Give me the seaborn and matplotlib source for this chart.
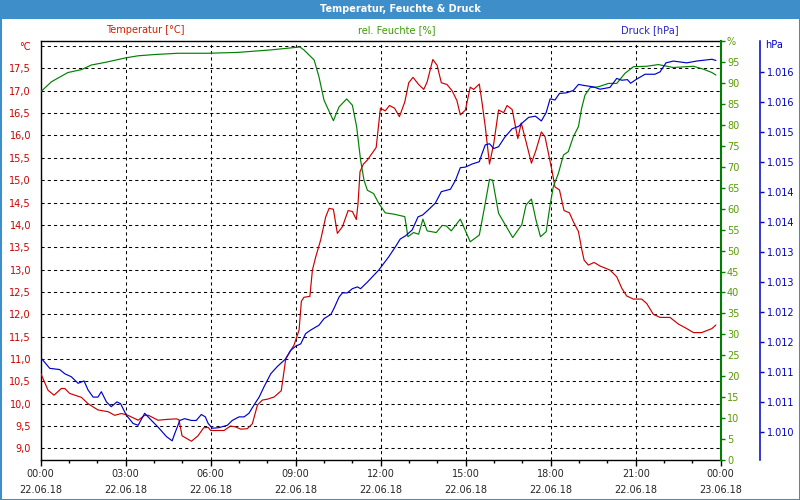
import matplotlib
matplotlib.use("Agg")
import matplotlib.pyplot as plt
from matplotlib.patches import Rectangle
from matplotlib.ticker import FixedLocator, FixedFormatter
import seaborn as sns
import pandas as pd

# ---------------- data (hours since 22.06.18 00:00) ----------------
temp_t = [0.0, 0.26, 0.47, 0.73, 0.85, 1.02, 1.44, 1.67, 2.02, 2.38, 2.61, 2.85, 3.08, 3.44,
          3.67, 3.80, 4.14, 4.49, 4.79, 4.88, 4.99, 5.32, 5.55, 5.75, 5.91, 6.00, 6.47, 6.70,
          6.88, 7.06, 7.29, 7.47, 7.65, 7.82, 8.00, 8.24, 8.49, 8.56, 8.65, 8.94, 9.12, 9.20,
          9.29, 9.50, 9.59, 9.71, 9.88, 10.06, 10.18, 10.33, 10.47, 10.65, 10.85, 11.00, 11.14,
          11.20, 11.27, 11.39, 11.53, 11.65, 11.84, 11.99, 12.16, 12.31, 12.49, 12.66, 12.85,
          12.99, 13.14, 13.34, 13.52, 13.64, 13.84, 13.99, 14.14, 14.34, 14.52, 14.69, 14.81,
          14.99, 15.16, 15.28, 15.48, 15.58, 15.69, 15.84, 15.99, 16.16, 16.34, 16.46, 16.64,
          16.84, 16.96, 17.13, 17.32, 17.48, 17.67, 17.80, 17.92, 18.04, 18.15, 18.31, 18.47,
          18.66, 18.80, 18.98, 19.09, 19.18, 19.33, 19.53, 19.74, 20.09, 20.33, 20.51, 20.68,
          20.92, 21.21, 21.39, 21.62, 21.86, 22.21, 22.51, 22.80, 23.04, 23.33, 23.69, 23.83]
temp_v = [10.68, 10.30, 10.19, 10.34, 10.34, 10.23, 10.14, 10.00, 9.86, 9.82, 9.74, 9.78, 9.74, 9.63,
          9.74, 9.74, 9.63, 9.65, 9.66, 9.64, 9.28, 9.16, 9.28, 9.46, 9.47, 9.40, 9.40, 9.50,
          9.48, 9.43, 9.44, 9.55, 9.97, 10.08, 10.10, 10.15, 10.29, 10.60, 11.01, 11.31, 11.65, 12.29,
          12.38, 12.40, 12.99, 13.29, 13.66, 14.18, 14.37, 14.35, 13.81, 13.96, 14.32, 14.30, 14.12,
          14.48, 15.19, 15.36, 15.45, 15.56, 15.73, 16.61, 16.55, 16.67, 16.61, 16.42, 16.75,
          17.18, 17.30, 17.14, 17.03, 17.20, 17.70, 17.57, 17.18, 17.14, 17.00, 16.78, 16.46,
          16.57, 17.08, 17.03, 17.15, 16.72, 16.20, 15.36, 15.82, 16.57, 16.51, 16.67, 16.58,
          15.93, 16.28, 15.86, 15.38, 15.67, 16.08, 15.97, 15.60, 15.23, 14.85, 14.78, 14.32,
          14.27, 14.07, 13.85, 13.47, 13.21, 13.10, 13.16, 13.08, 12.99, 12.84, 12.58, 12.41,
          12.34, 12.34, 12.24, 12.00, 11.93, 11.93, 11.78, 11.68, 11.59, 11.59, 11.68, 11.76]

hum_t = [0.0, 0.38, 0.96, 1.44, 1.79, 2.26, 3.0, 3.44, 4.02, 4.85, 5.9, 6.94, 8.12, 9.0, 9.15, 9.29,
         9.65, 9.82, 10.0, 10.33, 10.53, 10.8, 11.0, 11.15, 11.29, 11.41, 11.53, 11.75, 11.93,
         12.16, 12.46, 12.85, 12.96, 13.16, 13.34, 13.49, 13.64, 13.96, 14.17, 14.31, 14.49,
         14.81, 15.16, 15.48, 15.69, 15.84, 15.95, 16.16, 16.40, 16.66, 16.98, 17.13, 17.32,
         17.48, 17.64, 17.84, 17.98, 18.09, 18.27, 18.45, 18.62, 18.80, 18.98, 19.09, 19.21,
         19.39, 19.68, 20.04, 20.33, 20.62, 20.92, 21.39, 21.80, 22.33, 23.04, 23.39, 23.69, 23.83]
hum_v = [87.9, 90.3, 92.5, 93.2, 94.3, 94.9, 96.0, 96.5, 96.8, 97.1, 97.1, 97.3, 97.9, 98.5, 98.6, 97.9,
         95.5, 91.5, 85.9, 81.0, 84.3, 86.2, 84.7, 79.6, 71.6, 66.8, 64.4, 63.6, 61.3,
         59.0, 58.7, 58.1, 53.3, 54.3, 53.9, 57.5, 54.7, 54.3, 56.0, 55.9, 54.7,
         57.5, 52.1, 53.7, 61.3, 67.0, 66.8, 58.9, 56.1, 53.1, 56.2, 60.9, 62.3,
         57.3, 53.3, 54.5, 60.9, 65.2, 68.4, 72.8, 73.6, 77.2, 79.6, 83.9, 87.1,
         88.9, 89.1, 89.9, 89.9, 92.3, 93.9, 94.0, 94.4, 93.7, 94.0, 93.3, 92.5, 91.9]

pres_t = [0.0, 0.32, 0.67, 0.85, 1.08, 1.32, 1.53, 1.67, 1.85, 2.02, 2.14, 2.32, 2.49, 2.69, 2.82,
          3.02, 3.26, 3.44, 3.67, 3.91, 4.14, 4.44, 4.64, 4.73, 4.91, 5.08, 5.32, 5.49, 5.67,
          5.81, 5.91, 6.06, 6.29, 6.59, 6.76, 7.00, 7.18, 7.35, 7.53, 7.71, 7.88, 8.12, 8.35,
          8.65, 8.82, 9.00, 9.18, 9.35, 9.53, 9.82, 10.00, 10.24, 10.35, 10.53, 10.65, 10.82,
          11.00, 11.18, 11.29, 11.53, 11.69, 11.93, 12.28, 12.52, 12.69, 12.87, 13.11, 13.32,
          13.48, 13.69, 13.93, 14.14, 14.46, 14.64, 14.81, 14.99, 15.22, 15.48, 15.58, 15.69,
          15.84, 15.99, 16.16, 16.38, 16.64, 16.87, 17.05, 17.22, 17.46, 17.67, 17.84, 17.98,
          18.15, 18.31, 18.56, 18.80, 18.98, 19.21, 19.50, 19.74, 20.09, 20.33, 20.51, 20.71,
          20.82, 21.04, 21.33, 21.68, 21.86, 22.07, 22.33, 22.80, 23.15, 23.69, 23.83]
pres_v = [1011.24, 1011.06, 1011.04, 1010.97, 1010.92, 1010.81, 1010.85, 1010.70, 1010.58, 1010.58,
          1010.67, 1010.50, 1010.42, 1010.50, 1010.47, 1010.28, 1010.14, 1010.11, 1010.31, 1010.19,
          1010.08, 1009.92, 1009.85, 1009.97, 1010.19, 1010.22, 1010.19, 1010.19, 1010.29, 1010.25,
          1010.14, 1010.06, 1010.07, 1010.11, 1010.19, 1010.25, 1010.25, 1010.31, 1010.45, 1010.58,
          1010.75, 1010.97, 1011.09, 1011.22, 1011.36, 1011.43, 1011.47, 1011.64, 1011.70, 1011.78,
          1011.89, 1011.96, 1012.06, 1012.25, 1012.32, 1012.32, 1012.39, 1012.42, 1012.39, 1012.50,
          1012.58, 1012.70, 1012.92, 1013.09, 1013.22, 1013.27, 1013.37, 1013.59, 1013.62, 1013.71,
          1013.82, 1014.01, 1014.05, 1014.20, 1014.41, 1014.42, 1014.47, 1014.51, 1014.65, 1014.79,
          1014.81, 1014.73, 1014.76, 1014.92, 1015.06, 1015.10, 1015.18, 1015.25, 1015.27, 1015.19,
          1015.33, 1015.56, 1015.54, 1015.65, 1015.66, 1015.70, 1015.80, 1015.78, 1015.76, 1015.72,
          1015.75, 1015.90, 1015.87, 1015.88, 1015.82, 1015.89, 1015.97, 1015.97, 1016.01, 1016.16,
          1016.19, 1016.16, 1016.19, 1016.22, 1016.20]

x_ticks = [0, 3, 6, 9, 12, 15, 18, 21, 24]
x_tick_labels = ["00:00\n22.06.18", "03:00\n22.06.18", "06:00\n22.06.18", "09:00\n22.06.18",
                 "12:00\n22.06.18", "15:00\n22.06.18", "18:00\n22.06.18", "21:00\n22.06.18",
                 "00:00\n23.06.18"]
temp_ticks = [9.0, 9.5, 10.0, 10.5, 11.0, 11.5, 12.0, 12.5, 13.0, 13.5, 14.0, 14.5, 15.0, 15.5,
              16.0, 16.5, 17.0, 17.5, 18.0]
temp_tick_labels = ["9,0", "9,5", "10,0", "10,5", "11,0", "11,5", "12,0", "12,5", "13,0", "13,5",
                    "14,0", "14,5", "15,0", "15,5", "16,0", "16,5", "17,0", "17,5", "°C"]
hum_ticks = [0, 5, 10, 15, 20, 25, 30, 35, 40, 45, 50, 55, 60, 65, 70, 75, 80, 85, 90, 95, 100]
hum_tick_labels = ["0", "5", "10", "15", "20", "25", "30", "35", "40", "45", "50", "55", "60",
                   "65", "70", "75", "80", "85", "90", "95", "%"]
pres_ticks = [1010.0, 1010.5, 1011.0, 1011.5, 1012.0, 1012.5, 1013.0, 1013.5, 1014.0, 1014.5,
              1015.0, 1015.5, 1016.0]
pres_tick_labels = ["1.010", "1.011", "1.011", "1.012", "1.012", "1.013", "1.013", "1.014",
                    "1.014", "1.015", "1.015", "1.016", "1.016"]

# ---------------- styling ----------------
sns.set_style("white")
plt.rcParams['font.family'] = ['DejaVu Sans']
FS = 7
BAR = "#3d8ec9"
RED = "#cc0000"
GREEN = "#008000"
BLUE = "#0000cc"

W, H = 800, 500
fig = plt.figure(figsize=(8, 5), dpi=100)
fig.patch.set_facecolor("white")
fig.patches.append(Rectangle((0, 1 - 19 / H), 1, 19 / H, transform=fig.transFigure,
                             facecolor=BAR, edgecolor="none", zorder=0))
fig.patches.append(Rectangle((0, 0), 1, 1, transform=fig.transFigure, fill=False,
                             edgecolor=BAR, linewidth=2.2, zorder=5))
fig.text(0.5, 1 - 9 / H, "Temperatur, Feuchte & Druck", color="white", fontsize=FS,
         fontweight="bold", ha="center", va="center")

left_px, right_px, top_px, bot_px = 40.7, 720.7, 40.7, 460.0
ax = fig.add_axes([left_px / W, 1 - bot_px / H, (right_px - left_px) / W, (bot_px - top_px) / H])
ax2 = ax.twinx()
ax3 = ax.twinx()

df_t = pd.DataFrame({"t": temp_t, "v": temp_v})
df_h = pd.DataFrame({"t": hum_t, "v": hum_v})
df_p = pd.DataFrame({"t": pres_t, "v": pres_v})
sns.lineplot(data=df_t, x="t", y="v", ax=ax, color=RED, linewidth=0.85, estimator=None, sort=False, zorder=3)
sns.lineplot(data=df_h, x="t", y="v", ax=ax2, color=GREEN, linewidth=0.85, estimator=None, sort=False)
sns.lineplot(data=df_p, x="t", y="v", ax=ax3, color=BLUE, linewidth=0.85, estimator=None, sort=False)

ax.set_xlim(0, 24)
ax.set_ylim(8.74, 18.12)
ax2.set_ylim(0, 100.1)
ax3.set_ylim(1009.53, 1016.53)
for a in (ax, ax2, ax3):
    a.set_xlabel("")
    a.set_ylabel("")

# x axis
ax.xaxis.set_major_locator(FixedLocator(x_ticks))
ax.xaxis.set_major_formatter(FixedFormatter(x_tick_labels))
ax.xaxis.set_minor_locator(FixedLocator(list(range(0, 25))))
ax.tick_params(axis="x", which="major", direction="out", length=4, width=1, color="black",
               labelsize=FS, pad=2.5, bottom=True)
ax.tick_params(axis="x", which="minor", direction="out", length=2.5, width=1, color="black", bottom=True)
for lbl in ax.get_xticklabels():
    lbl.set_linespacing(1.75)

# temperature axis
ax.yaxis.set_major_locator(FixedLocator(temp_ticks))
ax.yaxis.set_major_formatter(FixedFormatter(temp_tick_labels))
ax.tick_params(axis="y", length=0, pad=7, labelsize=FS, labelcolor=RED, left=True)

ax.grid(True, which="major", axis="both", color="black", linestyle=(0, (3, 3)), linewidth=0.75)
ax.set_axisbelow(True)
for s in ("top", "bottom", "left"):
    ax.spines[s].set_color("black")
    ax.spines[s].set_linewidth(1.0)
    ax.spines[s].set_visible(True)
ax.spines["right"].set_visible(False)

# humidity axis
ax2.yaxis.set_major_locator(FixedLocator(hum_ticks))
ax2.yaxis.set_major_formatter(FixedFormatter(hum_tick_labels))
ax2.tick_params(axis="y", direction="out", length=3, width=1, color=GREEN, labelsize=FS,
                labelcolor="#5a9a00", pad=1.5, right=True)
for s in ("top", "bottom", "left"):
    ax2.spines[s].set_visible(False)
ax2.spines["right"].set_visible(True)
ax2.spines["right"].set_color(GREEN)
ax2.spines["right"].set_linewidth(1.5)
ax2.grid(False)

# pressure axis
ax3.spines["right"].set_position(("axes", (760.3 - left_px) / (right_px - left_px)))
ax3.yaxis.set_major_locator(FixedLocator(pres_ticks))
ax3.yaxis.set_major_formatter(FixedFormatter(pres_tick_labels))
ax3.tick_params(axis="y", direction="out", length=3, width=1, color=BLUE, labelsize=FS,
                labelcolor=BLUE, pad=1.5, right=True)
for s in ("top", "bottom", "left"):
    ax3.spines[s].set_visible(False)
ax3.spines["right"].set_visible(True)
ax3.spines["right"].set_color(BLUE)
ax3.spines["right"].set_linewidth(1.1)
ax3.grid(False)
fig.text(765 / W, 1 - 45 / H, "hPa", color=BLUE, fontsize=FS, ha="left", va="center")

# series headers
fig.text(145 / W, 1 - 30 / H, "Temperatur [°C]", color="#cc2200", fontsize=FS, ha="center", va="center")
fig.text(397 / W, 1 - 30 / H, "rel. Feuchte [%]", color="#3c9a00", fontsize=FS, ha="center", va="center")
fig.text(650 / W, 1 - 30 / H, "Druck [hPa]", color="#2222cc", fontsize=FS, ha="center", va="center")

fig.savefig("out.png", dpi=100)
